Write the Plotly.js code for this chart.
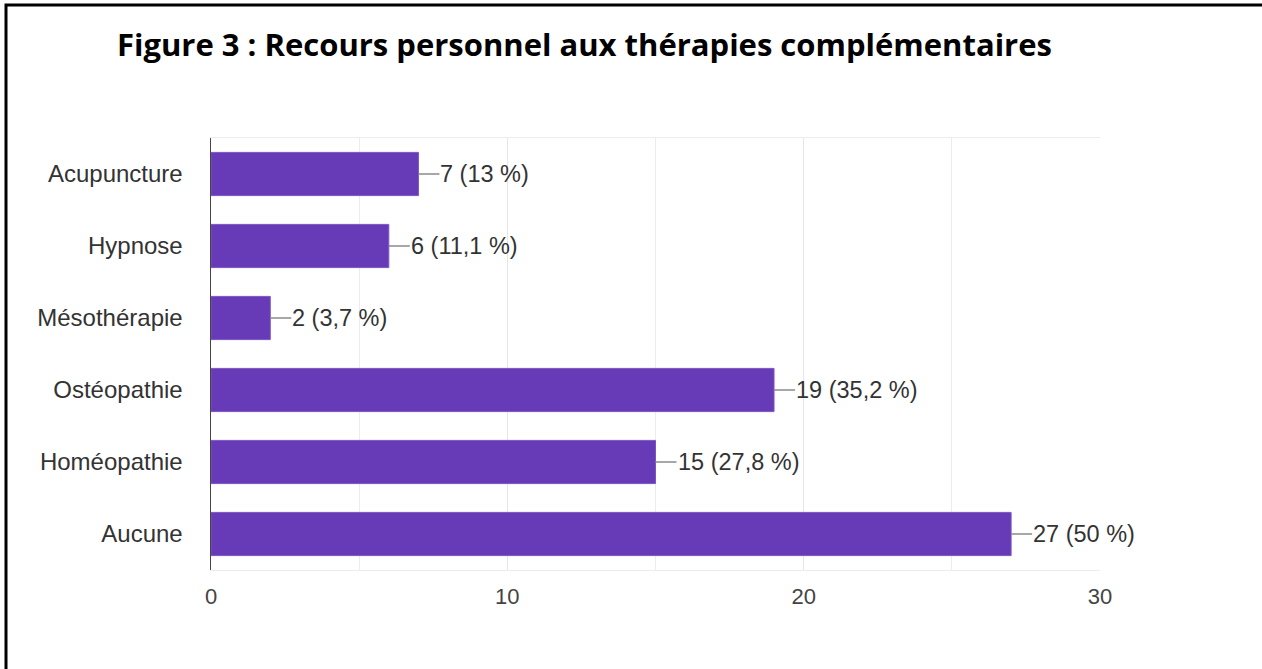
<!DOCTYPE html>
<html>
<head>
<meta charset="utf-8">
<script src="https://cdn.plot.ly/plotly-3.0.1.min.js"></script>
<style>
  html, body { margin: 0; padding: 0; background: #fff; }
  #chart { width: 1262px; height: 669px; }
</style>
</head>
<body>
<div id="chart"></div>
<script>
// Data
var categories = ["Acupuncture", "Hypnose", "Mésothérapie", "Ostéopathie", "Homéopathie", "Aucune"];
var counts = [7, 6, 2, 19, 15, 27];
var percents = [13, 11.1, 3.7, 35.2, 27.8, 50];
var xTickValues = [0, 10, 20, 30];
var titleText = "Figure 3 : Recours personnel aux thérapies complémentaires";

function frNumber(v) {
  return String(v).replace(".", ",");
}

var barTrace = {
  type: "bar",
  orientation: "h",
  x: counts,
  y: categories,
  marker: { color: "#673ab7", line: { color: "#7b55c4", width: 1 } },
  width: 0.6,
  hoverinfo: "x+y"
};

var annotations = categories.map(function (c, i) {
  return {
    x: counts[i],
    y: c,
    xref: "x",
    yref: "y",
    text: counts[i] + " (" + frNumber(percents[i]) + " %)",
    showarrow: true,
    arrowhead: 0,
    arrowwidth: 1.5,
    arrowcolor: "#8a8a8a",
    ax: 21,
    ay: 0,
    xanchor: "left",
    yanchor: "middle",
    borderpad: 0,
    font: { family: "Liberation Sans, Arial, sans-serif", size: 23.5, color: "#333" }
  };
});

// Decorative black frame around the figure (paper coordinates)
var L = 211, R = 1100, T = 138, B = 570;
function px2x(p) { return (p - L) / (R - L); }
function px2y(p) { return (B - p) / (B - T); }

var layout = {
  width: 1262,
  height: 669,
  margin: { l: L, r: 1262 - R, t: T, b: 669 - B, pad: 0 },
  paper_bgcolor: "#ffffff",
  plot_bgcolor: "#ffffff",
  showlegend: false,
  bargap: 0.4,
  title: {
    text: titleText,
    font: { family: "Open Sans, sans-serif", size: 31, color: "#000", weight: "bold" },
    xref: "container",
    x: 117 / 1262,
    xanchor: "left",
    yref: "container",
    y: 1 - 45 / 669,
    yanchor: "middle"
  },
  xaxis: {
    range: [0, 30],
    tickvals: xTickValues,
    ticktext: xTickValues.map(String),
    showgrid: true,
    gridcolor: "#e6e6e6",
    gridwidth: 1,
    minor: { dtick: 5, showgrid: true, gridcolor: "#ececec", gridwidth: 1 },
    zeroline: false,
    showline: true,
    mirror: true,
    linecolor: "#ececec",
    linewidth: 1,
    ticks: "",
    ticklabelstandoff: 7,
    tickfont: { family: "Liberation Sans, Arial, sans-serif", size: 22, color: "#444" },
    fixedrange: true
  },
  yaxis: {
    type: "category",
    autorange: "reversed",
    showgrid: false,
    zeroline: false,
    showline: true,
    linecolor: "#444",
    linewidth: 1.5,
    ticks: "",
    ticklabelstandoff: 22,
    tickfont: { family: "Liberation Sans, Arial, sans-serif", size: 24, color: "#333" },
    fixedrange: true
  },
  annotations: annotations,
  shapes: [
    {
      type: "rect",
      xref: "paper", yref: "paper",
      x0: px2x(6), x1: px2x(1275),
      y0: px2y(685), y1: px2y(5),
      line: { color: "#000", width: 3 },
      fillcolor: "rgba(0,0,0,0)",
      layer: "above"
    }
  ]
};

Plotly.newPlot("chart", [barTrace], layout, { displayModeBar: false, staticPlot: true });
</script>
</body>
</html>
